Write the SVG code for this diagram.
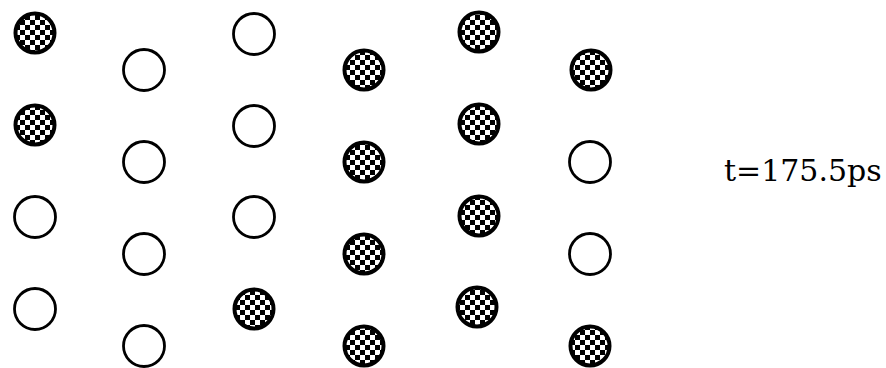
<svg xmlns="http://www.w3.org/2000/svg" width="886" height="368" viewBox="0 0 886 368">
<defs>
<pattern id="chk" width="10" height="10" patternUnits="userSpaceOnUse">
<rect width="10" height="10" fill="#fff"/>
<rect x="0" y="0" width="5" height="5" fill="#000"/>
<rect x="5" y="5" width="5" height="5" fill="#000"/>
</pattern>
</defs>
<style>
.e{fill:#fff;stroke:#000;stroke-width:2.8}
.f{fill:url(#chk);stroke:#000;stroke-width:4}
.t{font-family:"DejaVu Serif","Liberation Serif",serif;font-size:30px;fill:#000}
</style>
<rect width="886" height="368" fill="#fff"/>
<g id="col1">
<circle id="n1_1" class="f" cx="35" cy="33" r="19.5"/>
<circle id="n1_2" class="f" cx="35" cy="125" r="19.5"/>
<circle id="n1_3" class="e" cx="35" cy="217" r="20.5"/>
<circle id="n1_4" class="e" cx="35" cy="309" r="20.5"/>
</g>
<g id="col2">
<circle id="n2_1" class="e" cx="144" cy="70" r="20.5"/>
<circle id="n2_2" class="e" cx="144" cy="162" r="20.5"/>
<circle id="n2_3" class="e" cx="144" cy="254" r="20.5"/>
<circle id="n2_4" class="e" cx="144" cy="346" r="20.5"/>
</g>
<g id="col3">
<circle id="n3_1" class="e" cx="254" cy="34" r="20.5"/>
<circle id="n3_2" class="e" cx="254" cy="126" r="20.5"/>
<circle id="n3_3" class="e" cx="254" cy="217" r="20.5"/>
<circle id="n3_4" class="f" cx="254" cy="309" r="19.5"/>
</g>
<g id="col4">
<circle id="n4_1" class="f" cx="364" cy="70" r="19.5"/>
<circle id="n4_2" class="f" cx="364" cy="162" r="19.5"/>
<circle id="n4_3" class="f" cx="364" cy="254" r="19.5"/>
<circle id="n4_4" class="f" cx="364" cy="346" r="19.5"/>
</g>
<g id="col5">
<circle id="n5_1" class="f" cx="479" cy="32" r="19.5"/>
<circle id="n5_2" class="f" cx="479" cy="124" r="19.5"/>
<circle id="n5_3" class="f" cx="479" cy="216" r="19.5"/>
<circle id="n5_4" class="f" cx="477" cy="307" r="19.5"/>
</g>
<g id="col6">
<circle id="n6_1" class="f" cx="591" cy="70" r="19.5"/>
<circle id="n6_2" class="e" cx="590" cy="162" r="20.5"/>
<circle id="n6_3" class="e" cx="590" cy="254" r="20.5"/>
<circle id="n6_4" class="f" cx="590" cy="346" r="19.5"/>
</g>
<g id="connectors"></g>
<g id="label">
<text class="t" x="724" y="181">t=175.5ps</text>
</g>
</svg>
